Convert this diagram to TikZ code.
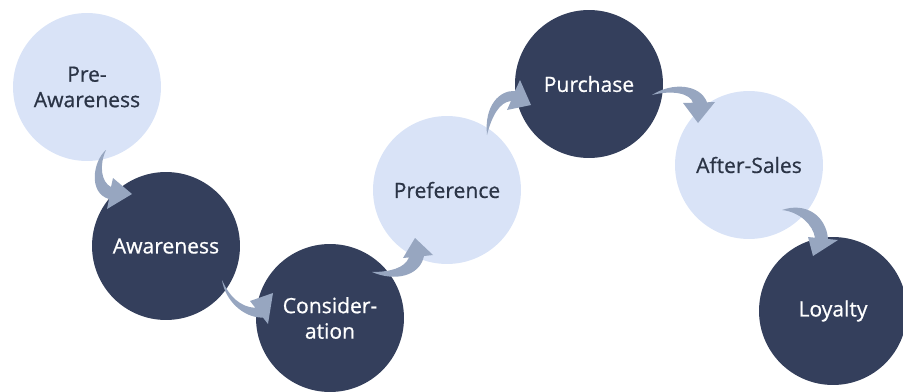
\documentclass[tikz,border=0pt]{standalone}
\usepackage{fontspec}
\setmainfont{Open Sans}
\newfontfamily\stagefont{Open Sans}[FakeBold=0.7]
\usepackage{tikz}
\usetikzlibrary{positioning}

\definecolor{lightStage}{HTML}{D9E3F7}
\definecolor{darkStage}{HTML}{343F5C}
\definecolor{flowArrow}{HTML}{97A6C0}
\definecolor{darkText}{HTML}{2B3446}

\tikzset{
	stage/.style={circle, minimum size=2.96cm, inner sep=0pt, align=center, font=\stagefont\fontsize{12}{14.5}\selectfont},
	lightStageBox/.style={stage, fill=lightStage, text=darkText},
	darkStageBox/.style={stage, fill=darkStage, text=white},
	flow/.style={fill=flowArrow}
}

\begin{document}
\begin{tikzpicture}[x=0.02cm, y=-0.02cm]
		\useasboundingbox (0,0) rectangle (903,392);
		% stages of the journey
		\node[lightStageBox](preAwareBox) at (87,87){Pre-\\Awareness};
		\node[darkStageBox](awareBox) at (166,246){Awareness};
		\node[darkStageBox](considerBox) at (330,318){Consider-\\ation};
		\node[lightStageBox](preferBox) at (447,190){Preference};
		\node[darkStageBox](purchaseBox) at (589,84){Purchase};
		\node[lightStageBox](afterSalesBox) at (749,165){After-Sales};
		\node[darkStageBox](loyaltyBox) at (833,311){Loyalty};
		% curved arrows between the stages
		\fill[flow] (106,150) .. controls (93,161) and (88,193) .. (109,199) -- (107,209) -- (132,194) -- (113,178) -- (111,187) .. controls (101,182) and (99,165) .. (106,150) -- cycle;
		\fill[flow] (222,280) .. controls (225,300) and (243,318) .. (263,317.6) -- (268,324) -- (273,293) -- (250,301) -- (255.4,307.9) .. controls (240,307) and (229,296) .. (222,280) -- cycle;
		\fill[flow] (372,272) .. controls (395,282) and (420,276) .. (424,256) -- (433,255) -- (415,238) -- (403,258) -- (409,257.4) .. controls (405,268) and (390,272) .. (372,272) -- cycle;
		\fill[flow] (487,135) .. controls (484,105) and (500,90) .. (515,91) -- (520,80) -- (531,105) -- (507,110) -- (511,101) .. controls (500,102) and (492,115) .. (487,135) -- cycle;
		\fill[flow] (652,95) .. controls (672,82) and (700,84) .. (707,102.3) -- (715,102) -- (698,123) -- (683,103) -- (693,102.7) .. controls (690,93) and (672,90) .. (652,95) -- cycle;
		\fill[flow] (782,210) .. controls (805,202) and (826,215) .. (828,239) -- (838,240) -- (813,256) -- (808,237) -- (815,237.7) .. controls (813,225) and (800,212) .. (782,210) -- cycle;
	\end{tikzpicture}
\end{document}
